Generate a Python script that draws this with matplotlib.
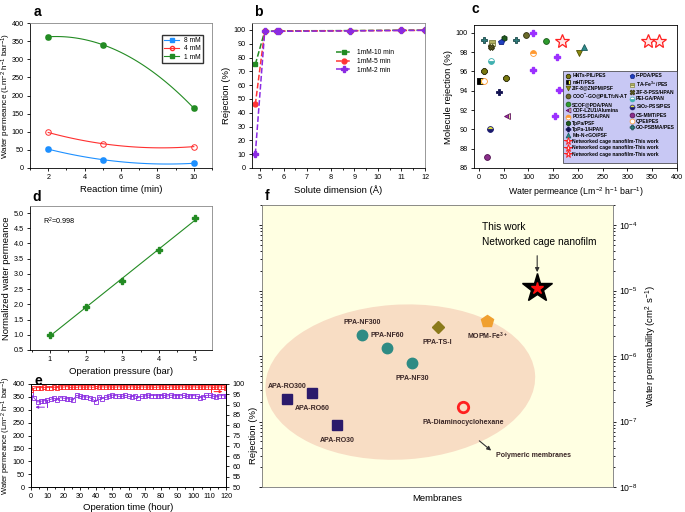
import numpy as np
import matplotlib.pyplot as plt
from matplotlib.patches import Ellipse
from matplotlib.lines import Line2D
from matplotlib.ticker import MultipleLocator

plt.rcParams['font.family'] = ['Liberation Sans', 'DejaVu Sans']
plt.rcParams['mathtext.default'] = 'regular'
plt.rcParams['font.size'] = 6
plt.rcParams['xtick.labelsize'] = 5.2
plt.rcParams['ytick.labelsize'] = 5.2
plt.rcParams['axes.linewidth'] = 0.6
plt.rcParams['xtick.major.size'] = 2.5
plt.rcParams['ytick.major.size'] = 2.5
plt.rcParams['xtick.minor.size'] = 1.5
plt.rcParams['ytick.minor.size'] = 1.5
plt.rcParams['xtick.major.width'] = 0.6
plt.rcParams['ytick.major.width'] = 0.6
plt.rcParams['xtick.major.pad'] = 2
plt.rcParams['ytick.major.pad'] = 2

LBL = 6.8
PLBL = 5.9
PERM = 'Water permeance (Lm$^{-2}$ h$^{-1}$ bar$^{-1}$)'

# panel a: reaction time vs permeance
react_time = [2, 5, 10]
perm_8mM = [52, 23, 13]
perm_4mM = [98, 67, 59]
perm_1mM = [362, 340, 165]

# panel b: solute dimension vs rejection
solute_dim = [4.8, 5.2, 5.7, 5.8, 8.8, 11.0, 12.0]
rej_10min = [75, 99.0, 99.2, 99.3, 99.5, 99.8, 99.8]
rej_5min = [46, 99.0, 99.0, 99.1, 99.4, 99.6, 99.7]
rej_2min = [10, 99.0, 99.0, 99.0, 99.3, 99.6, 99.7]

# panel c: literature comparison (permeance, rejection)
lit_names = ['HNTs-PIL/PES', 'mHT/PES', 'ZIF-8@ZNPM/PSF', 'COO$^{-}$-GO@PILTf$_2$N-AT',
             'SCOF@PDA/PAN', 'COF-LZU1/Alumina', 'POSS-PDA/PAN', 'TpPa/PSF',
             'TpPa-1/HPAN', 'Mn-N-rGO/PSF', 'F-PDA/PES', 'TA-Fe$^{3+}$/PES',
             'ZIF-8-PSS/HPAN', 'PEI-GA/PAN', 'SiO$_2$-PSS/PES', 'CS-MMT/PES',
             'QPEI/PES', 'GO-PSBMA/PES']
lit_perm = [[10, 55], [3], [202], [96, 25], [136], [57], [110], [50], [40], [212],
            [45], [26], [25], [25], [22], [16], [11], [10, 74]]
lit_rej = [[96.0, 95.3], [95.0], [97.9], [99.8, 98.6], [99.1], [91.4], [97.9], [99.5],
           [93.9], [98.5], [99.0], [98.9], [98.5], [97.1], [90.0], [87.1], [95.0], [99.2, 99.2]]
other_perm = [110, 158, 110, 161, 154]
other_rej = [100.0, 97.5, 96.1, 94.1, 91.4]
this_perm = [168, 342, 364]
this_rej = [99.1, 99.1, 99.1]

# panel d: pressure vs normalized permeance
pressure = [1, 2, 3, 4, 5]
norm_perm = [1.0, 1.92, 2.78, 3.77, 4.83]

# panel e: long-term operation
op_time = list(range(0, 121, 2))
op_perm = [360, 345, 330, 333, 335, 336, 340, 345, 338, 347, 345, 343, 342, 338, 356,
           352, 350, 350, 347, 340, 332, 350, 343, 348, 352, 357, 355, 352, 352, 356,
           352, 351, 355, 347, 352, 353, 357, 355, 355, 354, 355, 356, 353, 357, 354,
           355, 354, 356, 352, 354, 355, 353, 347, 350, 356, 356, 353, 350, 354, 355, 352]
op_rej = [97.0, 98.0, 98.3, 98.2, 98.4, 98.3, 98.2, 98.5, 98.3, 98.6, 98.5, 98.7, 98.4,
          98.5, 98.4, 98.6, 98.5, 98.5, 98.6, 98.4, 98.8, 98.5, 98.6, 98.5, 98.6, 98.5,
          98.5, 98.6, 98.5, 98.6, 98.5, 98.6, 98.5, 98.4, 98.6, 98.5, 98.5, 98.6, 98.4,
          98.5, 98.6, 98.5, 98.4, 98.6, 98.5, 98.5, 98.6, 98.5, 98.6, 98.5, 98.6, 98.5,
          98.5, 98.6, 98.5, 98.6, 98.4, 98.5, 98.6, 98.5, 98.3]

# panel f: membranes vs water permeability
memb_names = ['APA-RO300', 'APA-RO60', 'APA-RO30', 'PPA-NF300', 'PPA-NF60', 'PPA-NF30',
              'PPA-TS-I', 'MOPM-Fe$^{3+}$', 'PA-Diaminocyclohexane']
memb_x = [7.2, 14.3, 21.4, 28.6, 35.6, 42.7, 50.0, 64.2, 57.2]
memb_perm = [2.2e-7, 2.75e-7, 8.7e-8, 2.1e-6, 1.32e-6, 7.9e-7, 2.8e-6, 3.4e-6, 1.66e-7]
this_x = 78.4
this_permeab = 1.11e-5

fig = plt.figure(figsize=(6.85, 5.12), dpi=100)


def box(l, t, r, b):
    return fig.add_axes([l / 685, 1 - b / 512, (r - l) / 685, (b - t) / 512])


# ---- a
ax = box(30, 23, 212, 168)
tt = np.linspace(2, 10, 100)
series_a = [(perm_8mM, '#1E90FF', '8 mM'), (perm_4mM, '#FF3030', '4 mM'), (perm_1mM, '#238B23', '1 mM')]
handles = []
for vals, col, lab in series_a:
    fit = np.polyfit(react_time, vals, 2)
    ax.plot(tt, np.polyval(fit, tt), color=col, lw=0.8)
    ax.plot(react_time, vals, 'o', mfc='none', mec=col, ms=4, mew=0.7)
    if lab != '4 mM':
        ax.plot(react_time, vals, 's', color=col, ms=2.6)
    handles.append(Line2D([], [], color=col, lw=0.8, marker='o' if lab == '4 mM' else 's',
                          mfc='none' if lab == '4 mM' else col, ms=3))
ax.set_xlim(1, 11)
ax.set_ylim(0, 400)
ax.set_xticks([2, 4, 6, 8, 10])
ax.xaxis.set_minor_locator(MultipleLocator(1))
ax.yaxis.set_major_locator(MultipleLocator(50))
ax.set_xlabel('Reaction time (min)', fontsize=LBL, labelpad=3)
ax.set_ylabel(PERM, fontsize=PLBL)
ax.yaxis.set_label_coords(-0.093, 0.5)
ax.legend(handles, ['8 mM', '4 mM', '1 mM'], loc='upper right', bbox_to_anchor=(0.97, 0.94),
          fontsize=4.8, frameon=True, fancybox=False, edgecolor='black', handlelength=2.2,
          borderpad=0.3, labelspacing=0.2)
for s in ['top', 'right']:
    ax.spines[s].set_color('#888888')

# ---- b
ax = box(252, 23, 425, 168)
ax.plot(solute_dim, rej_10min, '--s', color='#238B23', ms=3.5, lw=1.1, label='1mM-10 min')
ax.plot(solute_dim, rej_5min, '--o', color='#FF3535', ms=3.5, lw=1.1, label='1mM-5 min')
ax.plot(solute_dim, rej_2min, '--P', color='#8A2BE2', ms=4, lw=1.1, label='1mM-2 min')
ax.set_xlim(4.66, 12)
ax.set_ylim(0, 105)
ax.set_xticks(range(5, 13))
ax.set_yticks(range(0, 101, 10))
ax.xaxis.set_minor_locator(MultipleLocator(0.5))
ax.set_xlabel('Solute dimension (Å)', fontsize=LBL, labelpad=3)
ax.set_ylabel('Rejection (%)', fontsize=LBL, labelpad=2)
ax.legend(loc='upper left', bbox_to_anchor=(0.45, 0.86), fontsize=4.8, frameon=False,
          handlelength=2.4, labelspacing=0.25)
for s in ['top', 'right']:
    ax.spines[s].set_color('#888888')

# ---- c
ax = box(474, 25, 677, 168)
styles = [
    dict(marker='8', color='#7A7A10', mec='#202000'),
    dict(marker='s', color='black', fillstyle='left', markerfacecoloralt='#FFFF40', mec='black'),
    dict(marker='v', color='#8B8B10', mec='#505000'),
    dict(marker='o', color='#6B6B2A', mec='#303010'),
    dict(marker='o', color='#2E9B2E', mec='#1A5A1A'),
    dict(marker='<', color='#A030A8', fillstyle='left', markerfacecoloralt='#E0E0A0', mec='#601060'),
    dict(marker='o', color='#FF9930', fillstyle='top', markerfacecoloralt='white', mec='#FF9930'),
    dict(marker='h', color='#1F5A1F', mec='#0A300A'),
    dict(marker='P', color='#101050', mec='#101050'),
    dict(marker='^', color='#2E8B8B', mec='#1A5A5A'),
    dict(marker='p', color='#2040C0', mec='#102080'),
    dict(marker='s', color='#B0B060', fillstyle='top', markerfacecoloralt='#E8E8B0', mec='#808040'),
    dict(marker='X', color='#5A5A20', mec='#303010'),
    dict(marker='o', color='#40B0B0', fillstyle='bottom', markerfacecoloralt='white', mec='#40B0B0'),
    dict(marker='o', color='#1A1A6E', fillstyle='bottom', markerfacecoloralt='#E0E040', mec='#1A1A6E'),
    dict(marker='o', color='#8B2F8B', mec='#501050'),
    dict(marker='o', color='white', mec='#FF9930'),
    dict(marker='P', color='#2E7B7B', mec='#1A4A4A'),
]
h_lit = []
for name, xs, ys, st in zip(lit_names, lit_perm, lit_rej, styles):
    ax.plot(xs, ys, ls='none', ms=4.2, mew=0.6, **st)
    h_lit.append(Line2D([], [], ls='none', ms=3.5, mew=0.5, **st))
ax.plot(other_perm, other_rej, 'P', color='#9B30FF', ms=4.8, ls='none')
ax.plot(this_perm, this_rej, '*', mfc='#FFE8E8', mec='#FF2020', ms=10, mew=0.9, ls='none')
star_h = Line2D([], [], marker='*', ls='none', mfc='#FFE8E8', mec='#FF2020', ms=5.5, mew=0.7)
blank = Line2D([], [], ls='none')
order_h = h_lit[:10] + [star_h] * 3 + h_lit[10:] + [blank] * 5
order_l = lit_names[:10] + ['Networked cage nanofilm-This work'] * 3 + lit_names[10:] + [''] * 5
leg = ax.legend(order_h, order_l, ncol=2, fontsize=3.6, loc='lower left',
                bbox_to_anchor=(0.44, 0.035, 0.56, 0.6), mode='expand', frameon=True,
                fancybox=False, facecolor='#C8C8F4', edgecolor='#333333', framealpha=1,
                handlelength=1.0, handletextpad=0.4, labelspacing=0.24, columnspacing=0.5,
                borderpad=0.4, borderaxespad=0)
leg.get_frame().set_linewidth(0.5)
for t in leg.get_texts():
    t.set_fontweight('bold')
ax.set_xlim(-10, 400)
ax.set_ylim(86, 100.8)
ax.xaxis.set_major_locator(MultipleLocator(50))
ax.yaxis.set_major_locator(MultipleLocator(2))
ax.set_xlabel(PERM, fontsize=PLBL + 0.4, labelpad=3)
ax.set_ylabel('Molecule rejection (%)', fontsize=LBL, labelpad=2)

# ---- d
ax = box(30, 206, 212, 350)
fit = np.polyfit(pressure, norm_perm, 1)
ax.plot([1, 5], np.polyval(fit, [1, 5]), color='#238B23', lw=0.8)
ax.plot(pressure, norm_perm, 'P', color='#238B23', ms=5, ls='none')
ax.text(0.07, 0.93, 'R$^2$=0.998', transform=ax.transAxes, fontsize=5.2, va='top')
ax.set_xlim(0.45, 5.47)
ax.set_ylim(0.5, 5.23)
ax.set_xticks([1, 2, 3, 4, 5])
ax.xaxis.set_minor_locator(MultipleLocator(0.5))
ax.yaxis.set_major_locator(MultipleLocator(0.5))
ax.set_xlabel('Operation pressure (bar)', fontsize=LBL, labelpad=3)
ax.set_ylabel('Normalized water permeance', fontsize=LBL, labelpad=2)
for s in ['top', 'right']:
    ax.spines[s].set_color('#888888')

# ---- e
ax = box(31, 384, 226, 487)
ax2 = ax.twinx()
purple = '#8A2BE2'
red = '#FF2020'
ax.plot(op_time, op_perm, '-s', color=purple, mfc='none', ms=2.8, mew=0.6, lw=0.6)
ax2.plot(op_time, op_rej, '-s', color=red, mfc='none', ms=2.8, mew=0.6, lw=0.6)
ax.plot([10, 10], [336, 310], color=purple, lw=0.7)
ax.annotate('', xy=(1, 310), xytext=(10, 310),
            arrowprops=dict(arrowstyle='-|>', color=purple, lw=0.7, mutation_scale=4))
ax2.plot([111, 111], [98.5, 96.3], color=red, lw=0.7)
ax2.annotate('', xy=(119.5, 96.3), xytext=(111, 96.3),
             arrowprops=dict(arrowstyle='-|>', color=red, lw=0.7, mutation_scale=4))
ax.set_xlim(0, 120)
ax.set_ylim(0, 400)
ax2.set_ylim(50, 100)
ax.xaxis.set_major_locator(MultipleLocator(10))
ax.xaxis.set_minor_locator(MultipleLocator(5))
ax.yaxis.set_major_locator(MultipleLocator(50))
ax2.yaxis.set_major_locator(MultipleLocator(5))
ax.set_xlabel('Operation time (hour)', fontsize=LBL, labelpad=2)
ax.set_ylabel(PERM, fontsize=PLBL - 0.4)
ax.yaxis.set_label_coords(-0.09, 0.5)
ax2.set_ylabel('Rejection (%)', fontsize=LBL, labelpad=3)

# ---- f
ax = box(262, 205, 613, 487)
ax.set_facecolor('#FFFFE2')
ax.add_patch(Ellipse((0.394, 0.372), 0.77, 0.549, angle=5, transform=ax.transAxes,
                     facecolor='#F8DDC4', edgecolor='none', zorder=0.5))
mstyles = [dict(marker='s', color='#2B1A6B')] * 3 + [dict(marker='o', color='#2E8B84')] * 3 + \
          [dict(marker='D', color='#8B7A1B', ms=6), dict(marker='p', color='#F0A030', ms=9),
           dict(marker='o', mfc='none', mec='#FF2020', mew=2, ms=7.5)]
offsets = [(0, 9), (0, -11), (0, -11), (0, 9), (0, 9), (0, -11), (0, -11), (0, -11), (0, -11)]
for xx, yy, nm, st, off in zip(memb_x, memb_perm, memb_names, mstyles, offsets):
    kw = dict(ms=7.5)
    kw.update(st)
    ax.plot([xx], [yy], ls='none', zorder=3, **kw)
    ax.annotate(nm, (xx, yy), xytext=off, textcoords='offset points', ha='center',
                va='center', fontsize=5, fontweight='bold', color='#3A2626')
ax.plot([this_x], [this_permeab], '*', color='black', ms=22, zorder=3)
ax.plot([this_x], [this_permeab], '*', color='#FF1010', ms=9, zorder=4)
ax.text(0.626, 0.923, 'This work', transform=ax.transAxes, fontsize=7.3, va='center')
ax.text(0.626, 0.870, 'Networked cage nanofilm', transform=ax.transAxes, fontsize=7.3, va='center')
ax.annotate('', xy=(0.784, 0.752), xytext=(0.784, 0.83), xycoords='axes fraction',
            arrowprops=dict(arrowstyle='-|>', color='#333333', lw=0.8, mutation_scale=6))
ax.text(0.666, 0.111, 'Polymeric membranes', transform=ax.transAxes, fontsize=5,
        fontweight='bold', va='center', color='#3A2626')
ax.annotate('', xy=(0.659, 0.123), xytext=(0.613, 0.170), xycoords='axes fraction',
            arrowprops=dict(arrowstyle='-|>', color='#333333', lw=0.8, mutation_scale=6))
ax.set_yscale('log')
ax.set_ylim(1e-8, 2.03e-4)
ax.set_xlim(0, 100)
ax.set_xticks([])
ax.tick_params(axis='y', which='both', left=True, right=True, labelleft=False, labelright=True,
               labelsize=6.3)
ax.yaxis.set_label_position('right')
ax.set_ylabel('Water permeability (cm$^2$ s$^{-1}$)', fontsize=LBL, labelpad=4)
ax.set_xlabel('Membranes', fontsize=LBL, labelpad=5)
for s in ax.spines.values():
    s.set_color('#777777')

# panel letters
for lab, x, y in [('a', 37, 12), ('b', 258, 12), ('c', 475, 9), ('d', 37, 197),
                  ('e', 38, 381), ('f', 267, 196)]:
    fig.text(x / 685, 1 - y / 512, lab, fontsize=10, fontweight='bold', ha='center', va='center')

fig.savefig('out.png', dpi=100)
